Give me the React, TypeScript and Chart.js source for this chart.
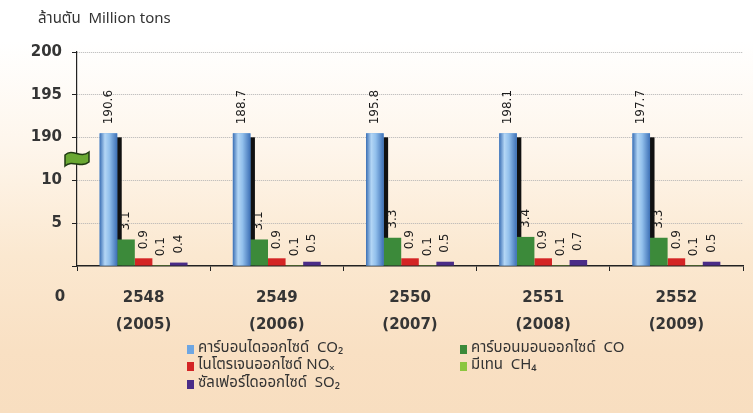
import React, { useEffect, useRef } from "react";
import { Chart, registerables } from "chart.js";

Chart.register(...registerables);

// ---- data ----
const yearsBE = ["2548", "2549", "2550", "2551", "2552"];
const yearsAD = ["(2005)", "(2006)", "(2007)", "(2008)", "(2009)"];
const co2 = [190.6, 188.7, 195.8, 198.1, 197.7];
const co = [3.1, 3.1, 3.3, 3.4, 3.3];
const nox = [0.9, 0.9, 0.9, 0.9, 0.9];
const ch4 = [0.1, 0.1, 0.1, 0.1, 0.1];
const so2 = [0.4, 0.5, 0.5, 0.7, 0.5];
const seriesNames = [
  "คาร์บอนไดออกไซด์  CO₂",
  "คาร์บอนมอนออกไซด์  CO",
  "ไนโตรเจนออกไซด์ NOₓ",
  "มีเทน  CH₄",
  "ซัลเฟอร์ไดออกไซด์  SO₂",
];
const seriesColors = ["#6ea6e2", "#3c8a3a", "#d42424", "#8cc63f", "#4a2c88"];
// tick labels of the broken axis (lower segment 0..10, upper segment 190..200)
const yTickLabels = ["0", "5", "10", "190", "195", "200"];
const unitLabel = "ล้านตัน  Million tons";

// broken axis: 0..10 -> 0..2 ; 190..200 -> 3..5 ; bars that pass the break stop at BREAK_DRAW_LEVEL
const LOWER_MAX = 10;
const UPPER_MIN = 190;
const STEP = 5;
const BREAK_DRAW_LEVEL = 190.5;
const toAxis = (v: number) =>
  v <= LOWER_MAX ? v / STEP : LOWER_MAX / STEP + 1 + (BREAK_DRAW_LEVEL - UPPER_MIN) / STEP;

const rawSeries = [co2, co, nox, ch4, so2];

const FONT = "'DejaVu Sans', Verdana, sans-serif";
const THAI_FONT = "'Noto Sans Thai', 'Noto Sans', 'DejaVu Sans', sans-serif";

const decorPlugin = {
  id: "decor",
  beforeDatasetsDraw(chart: any) {
    const ctx = chart.ctx;
    const meta = chart.getDatasetMeta(0);
    ctx.save();
    ctx.fillStyle = "#111";
    meta.data.forEach((el: any) => {
      const w = el.width;
      ctx.fillRect(el.x + w / 2 - 0.5, el.y + 4, 5, el.base - el.y - 4);
    });
    ctx.restore();
  },
  afterDatasetsDraw(chart: any) {
    const ctx = chart.ctx;
    // CO2 bar shading
    const meta0 = chart.getDatasetMeta(0);
    meta0.data.forEach((el: any) => {
      const l = el.x - el.width / 2;
      const r = el.x + el.width / 2;
      const g = ctx.createLinearGradient(l, 0, r, 0);
      g.addColorStop(0, "#3b6fb4");
      g.addColorStop(0.3, "#b3d6f5");
      g.addColorStop(0.55, "#92c0ec");
      g.addColorStop(1, "#3d70b6");
      ctx.save();
      ctx.fillStyle = g;
      ctx.fillRect(l, el.y, el.width, el.base - el.y);
      ctx.restore();
    });
    // value labels
    ctx.save();
    ctx.font = `12px ${FONT}`;
    ctx.fillStyle = "#1a1a1a";
    ctx.textAlign = "left";
    ctx.textBaseline = "middle";
    rawSeries.forEach((vals, di) => {
      const meta = chart.getDatasetMeta(di);
      meta.data.forEach((el: any, i: number) => {
        ctx.save();
        ctx.translate(el.x, el.y - 9);
        ctx.rotate(-Math.PI / 2);
        ctx.fillText(vals[i].toFixed(1), 0, 0);
        ctx.restore();
      });
    });
    ctx.restore();
  },
  afterDraw(chart: any) {
    const ctx = chart.ctx;
    const area = chart.chartArea;
    ctx.save();
    // unit label
    ctx.font = `15px ${THAI_FONT}`;
    ctx.fillStyle = "#333";
    ctx.textAlign = "left";
    ctx.textBaseline = "middle";
    ctx.fillText(unitLabel, 38, 20);
    // "0" label of the broken axis
    ctx.font = `bold 15px ${FONT}`;
    ctx.fillStyle = "#353535";
    ctx.textAlign = "center";
    ctx.fillText(yTickLabels[0], 60, 297);
    // axis break symbol
    const yScale = chart.scales.y;
    const yb = (yScale.getPixelForValue(2) + yScale.getPixelForValue(3)) / 2;
    const x0 = area.left - 12;
    const y0 = yb - 7;
    ctx.beginPath();
    ctx.moveTo(x0, y0 + 3);
    ctx.bezierCurveTo(x0 + 8, y0 - 4, x0 + 15, y0 + 7, x0 + 24, y0);
    ctx.lineTo(x0 + 24, y0 + 10);
    ctx.bezierCurveTo(x0 + 15, y0 + 17, x0 + 8, y0 + 7, x0, y0 + 14);
    ctx.closePath();
    ctx.fillStyle = "#6aa832";
    ctx.fill();
    ctx.lineWidth = 1.5;
    ctx.strokeStyle = "#1f3a12";
    ctx.stroke();
    // legend
    const cols = [187, 460];
    const rows = [349, 366, 384];
    ctx.font = `15px ${THAI_FONT}`;
    ctx.textAlign = "left";
    ctx.textBaseline = "middle";
    seriesNames.forEach((name, i) => {
      const x = cols[i % 2];
      const y = rows[Math.floor(i / 2)];
      ctx.fillStyle = seriesColors[i];
      ctx.fillRect(x, y - 4, 7, 9);
      ctx.fillStyle = "#333";
      ctx.fillText(name, x + 11, y);
    });
    ctx.restore();
  },
};

export default function App() {
  const ref = useRef<HTMLCanvasElement | null>(null);
  useEffect(() => {
    if (!ref.current) return;
    const chart = new Chart(ref.current, {
      type: "bar",
      data: {
        labels: yearsBE.map((y, i) => [y, yearsAD[i]]),
        datasets: rawSeries.map((vals, i) => ({
          label: seriesNames[i],
          data: vals.map(toAxis),
          backgroundColor: seriesColors[i],
          borderWidth: 0,
          categoryPercentage: 0.66,
          barPercentage: 1,
        })),
      },
      options: {
        responsive: false,
        animation: false,
        layout: { padding: { top: 52, right: 10, left: 0, bottom: 0 } },
        plugins: {
          legend: { display: false },
          tooltip: { enabled: false },
          title: { display: false },
        },
        scales: {
          x: {
            grid: {
              display: true,
              drawOnChartArea: false,
              drawTicks: true,
              tickLength: 5,
              color: "#222",
              offset: true,
            },
            border: { display: true, color: "#222", width: 1.5 },
            ticks: {
              font: { family: FONT, size: 15, weight: "bold", lineHeight: 1.8 },
              color: "#353535",
              padding: 14,
              maxRotation: 0,
            },
            afterFit: (s: any) => {
              s.height = 147;
            },
          },
          y: {
            min: 0,
            max: 5,
            ticks: {
              stepSize: 1,
              font: { family: FONT, size: 15, weight: "bold" },
              color: "#353535",
              padding: 10,
              callback: (v: any) => (v === 0 ? "" : yTickLabels[Math.round(v)]),
            },
            grid: {
              color: (c: any) => (c.tick && c.tick.value === 0 ? "rgba(0,0,0,0)" : "#b4b4b4"),
              tickColor: "#222",
              tickLength: 5,
              tickBorderDash: [],
              lineWidth: 1,
            },
            border: { display: true, color: "#222", width: 1.2, dash: [1, 1] },
            afterFit: (s: any) => {
              s.width = 77;
            },
          },
        },
      },
      plugins: [decorPlugin],
    });
    return () => chart.destroy();
  }, []);
  return (
    <div
      style={{
        position: "absolute",
        left: 0,
        top: 0,
        width: 753,
        height: 413,
        background:
          "linear-gradient(to bottom, #ffffff 0%, #ffffff 10%, #fef6ec 35%, #fbe8d0 62%, #f9e0c3 85%, #f8dec0 100%)",
      }}
    >
      <canvas ref={ref} width={753} height={413} style={{ display: "block" }} />
    </div>
  );
}
